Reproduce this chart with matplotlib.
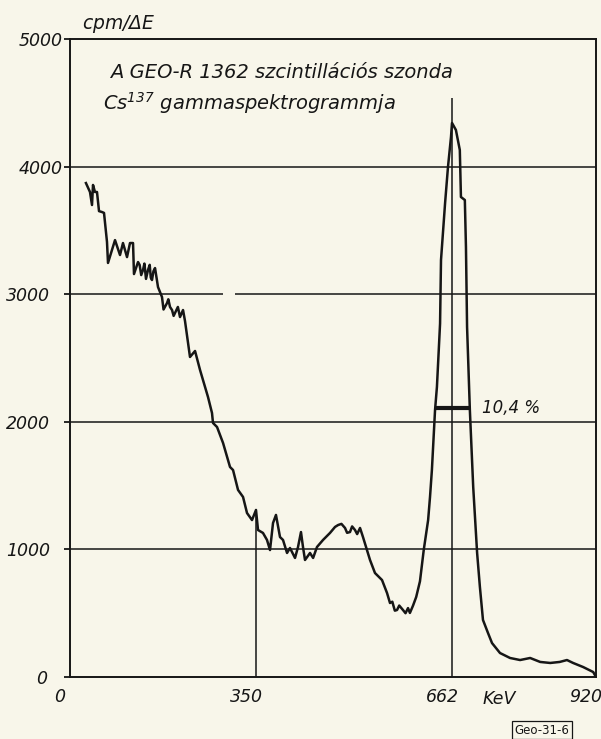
import numpy as np
import matplotlib
matplotlib.use("Agg")
import matplotlib.pyplot as plt
from matplotlib.transforms import ScaledTranslation, blended_transform_factory

# spectrum: energy (keV) and counts (cpm/dE)
energy = [30, 37.6, 41.4, 43.3, 47, 50.8, 54.6, 60.2, 64, 69.6, 71.5, 79, 84.7,
          94.1, 99.7, 107.3, 112.9, 118.6, 120.4, 128, 131, 134, 137.4, 140, 143,
          146.8, 150, 152, 154.3, 157, 160, 165.6, 173.1, 176, 182.6, 185, 188.2,
          192, 195, 197.6, 203, 207, 212.7, 216.4, 225.8, 235.3, 244.7, 250.3,
          259.7, 267.2, 269.1, 276.7, 288, 301.1, 306.8, 316.2, 325.6, 333.1,
          342.5, 350, 353.2, 361.1, 367.5, 372.3, 377.1, 381.8, 388.2, 393, 399.4,
          404.1, 412.1, 416.9, 421.6, 424.8, 428, 436, 440.9, 447.1, 456.7, 467.8,
          475.8, 480.7, 486, 491.7, 495, 499.6, 503, 507.6, 511, 515.6, 520.3,
          526.7, 531.5, 539.4, 550.6, 558.6, 563.3, 567, 571, 574.5, 578, 584,
          588, 592, 595, 600, 605, 611, 617, 624, 627, 630, 635, 638, 643, 644.5,
          651, 655.6, 660.4, 662, 669, 676, 678, 685, 687, 689, 694, 700, 707,
          712, 717.5, 726.5, 733.7, 748, 766, 784, 802, 820, 838, 855, 868, 879,
          897, 915, 920]
counts = [3871, 3801, 3699, 3856, 3801, 3801, 3651, 3644, 3637, 3410, 3245, 3346,
          3424, 3307, 3401, 3291, 3401, 3401, 3158, 3252, 3230, 3150, 3190, 3240,
          3120, 3190, 3230, 3130, 3111, 3180, 3205, 3056, 2978, 2880, 2931, 2960,
          2900, 2876, 2830, 2853, 2900, 2821, 2876, 2790, 2508, 2555, 2406, 2327,
          2194, 2069, 1991, 1959, 1834, 1646, 1622, 1466, 1411, 1285, 1230, 1309,
          1152, 1129, 1074, 995, 1207, 1270, 1097, 1074, 972, 1011, 933, 1019,
          1136, 1019, 917, 972, 933, 1019, 1074, 1129, 1176, 1191, 1200, 1168,
          1130, 1136, 1180, 1152, 1120, 1168, 1097, 995, 917, 815, 760, 658, 580,
          590, 520, 525, 560, 525, 500, 540, 502, 560, 627, 750, 995, 1230, 1411,
          1622, 2092, 2273, 2770, 3268, 3715, 3997, 4232, 4342, 4287, 4130, 3762,
          3738, 3370, 2743, 2092, 1489, 972, 705, 447, 345, 266, 188, 149, 133,
          149, 118, 110, 118, 133, 110, 78, 39, 0]

x_ticks = [0, 350, 662, 920]
x_labels = ["0", "350", "662", "920"]
y_ticks = [0, 1000, 2000, 3000, 4000, 5000]
y_labels = ["0", "1000", "2000", "3000", "4000", "5000"]

fwhm_left, fwhm_right, fwhm_level = 635, 694, 2110
fwhm_text = "10,4 %"
title_1 = "A GEO-R 1362 szcintillációs szonda"
title_2 = r"Cs$^{137}$ gammaspektrogrammja"

# the hand-drawn energy axis is not linear: where the ticks sit on the paper
axis_keV = [-1000, 0, 350, 662, 920, 2000]
axis_pos = [-1000 * 186 / 350, 0, 186, 382, 526, 526 + 1080 * 144 / 258]


def fwd(x):
    return np.interp(x, axis_keV, axis_pos)


def inv(p):
    return np.interp(p, axis_pos, axis_keV)


paper = "#f8f6ea"
ink = "#161616"

plt.rcParams["font.family"] = ["DejaVu Sans"]
plt.rcParams["font.style"] = "italic"

fig = plt.figure(figsize=(6.01, 7.39), dpi=100, facecolor=paper)
ax = fig.add_axes([70 / 601, 62 / 739, 526 / 601, 638 / 739])
ax.set_facecolor(paper)
ax.set_xscale("function", functions=(fwd, inv))
ax.set_xlim(0, 920)
ax.set_ylim(0, 5000)

for s in ax.spines.values():
    s.set_color(ink)
    s.set_linewidth(1.4)

# grid drawn by hand like the original (3000 line has a gap)
for yv in [1000, 2000, 4000]:
    ax.hlines(yv, 0, 920, color=ink, lw=1.1)
ax.hlines(3000, 0, 288, color=ink, lw=1.1)
ax.hlines(3000, 311, 920, color=ink, lw=1.1)
ax.vlines(350, 0, 1320, color=ink, lw=1.1)
ax.vlines(662, 0, 4540, color=ink, lw=1.1)

ax.plot(energy, counts, color=ink, lw=1.8, solid_joinstyle="round")
ax.hlines(fwhm_level, fwhm_left, fwhm_right, color=ink, lw=3)
ax.text(716, fwhm_level, fwhm_text, fontsize=12, color=ink, va="center", ha="left")

ax.set_xticks(x_ticks, x_labels)
ax.set_yticks(y_ticks, y_labels)
ax.tick_params(axis="x", length=0, pad=8, labelsize=12.5, colors=ink)
ax.tick_params(axis="y", length=4, width=1.3, pad=3, labelsize=12.5, colors=ink)
for t, p in zip(ax.yaxis.get_major_ticks(), [12.5, 10.5, 10.5, 10.5, 1, 1]):
    t.set_pad(p)
for lbl in ax.get_xticklabels():
    lbl.set_transform(lbl.get_transform() + ScaledTranslation(-0.1, 0, fig.dpi_scale_trans))

trans = blended_transform_factory(ax.transData, ax.transAxes)
ax.text(746, -0.035, "KeV", transform=trans, fontsize=12.5, color=ink, ha="center", va="center")

fig.text(82 / 601, 1 - 24 / 739, r"cpm/$\Delta$E", fontsize=13.5, color=ink, ha="left", va="center")
fig.text(110 / 601, 1 - 72 / 739, title_1, fontsize=14, color=ink, ha="left", va="center")
fig.text(103 / 601, 1 - 103 / 739, title_2, fontsize=14, color=ink, ha="left", va="center")
fig.text(542 / 601, 1 - 730 / 739, "Geo-31-6", fontsize=8.5, color=ink, ha="center", va="center",
         style="normal",
         bbox=dict(boxstyle="square,pad=0.25", fc=paper, ec=ink, lw=0.9))

fig.savefig("out.png", dpi=100, facecolor=paper)
